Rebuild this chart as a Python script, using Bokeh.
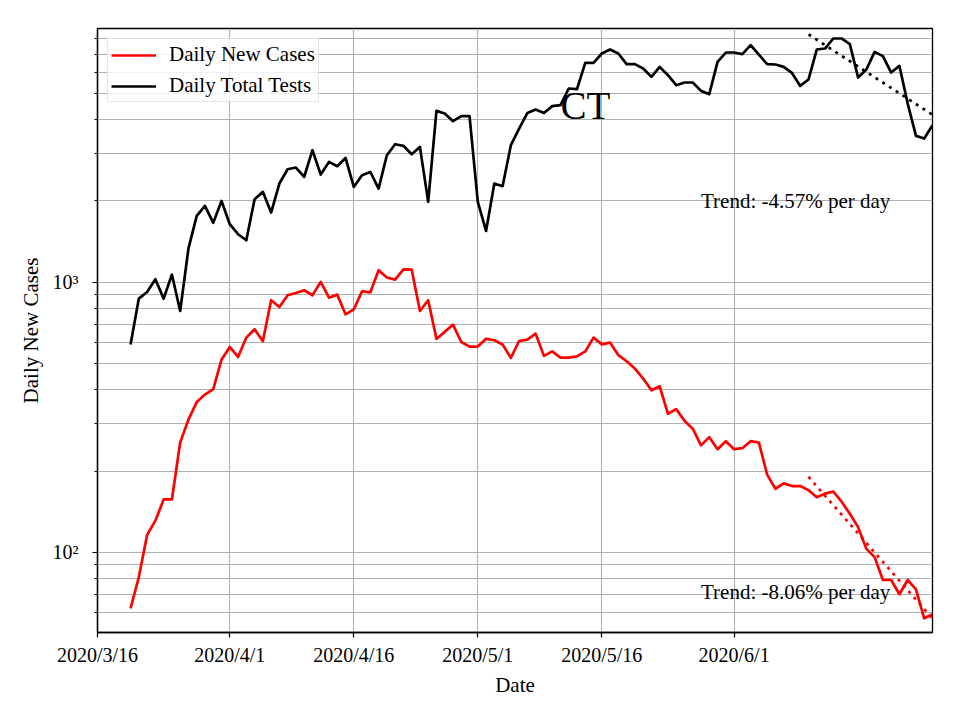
import math
import pandas as pd
from bokeh.plotting import figure
from bokeh.models import FixedTicker, CustomJSTickFormatter, Range1d, ColumnDataSource
from bokeh.core.properties import value
from bokeh.embed import file_html
from bokeh.resources import INLINE

FONT = "Liberation Serif"

# ---------------- data ----------------
start_date = "2020-03-20"
end_date = "2020-06-25"

new_cases = [62, 81, 116, 131, 157, 157, 255, 310, 360, 384,
             402, 517, 576, 529, 624, 670, 605, 858, 810, 895,
             913, 934, 895, 1003, 877, 900, 761, 794, 926, 918,
             1108, 1041, 1023, 1117, 1114, 783, 858, 617, 655, 697,
             601, 578, 578, 618, 610, 588, 525, 606, 613, 645,
             534, 555, 526, 526, 532, 555, 624, 589, 598, 537,
             510, 479, 440, 398, 412, 326, 339, 307, 287, 249,
             267, 241, 258, 241, 243, 258, 255, 194, 172, 180,
             176, 176, 170, 160, 165, 168, 154, 139, 124, 103,
             96, 79, 79, 70, 79, 73, 57, 59]

total_tests = [588, 870, 920, 1026, 870, 1068, 783, 1332, 1760, 1918,
               1659, 2000, 1640, 1506, 1431, 2030, 2161, 1812, 2320, 2621,
               2659, 2455, 3083, 2505, 2790, 2690, 2886, 2254, 2490, 2561,
               2223, 2953, 3244, 3200, 2979, 3171, 1984, 4311, 4214, 3948,
               4120, 4120, 1984, 1549, 2320, 2268, 3217, 3708, 4236, 4361,
               4236, 4487, 4526, 5216, 5191, 6493, 6493, 7031, 7272, 7031,
               6420, 6420, 6183, 5761, 6273, 5843, 5365, 5490, 5490, 5112,
               4970, 6546, 7089, 7089, 6989, 7546, 6960, 6420, 6400, 6273,
               5957, 5333, 5632, 7272, 7335, 7990, 7990, 7611, 5728, 6134,
               7128, 6874, 5977, 6324, 4588, 3483, 3405, 3815]

trend_start = "2020-06-10"
trend_end = "2020-06-25"
cases_trend_v0 = 190.5
cases_trend_rate = 0.0806   # per day
tests_trend_v0 = 8276
tests_trend_rate = 0.0457   # per day

x_tick_dates = ["2020-03-16", "2020-04-01", "2020-04-16",
                "2020-05-01", "2020-05-16", "2020-06-01"]
y_major_ticks = [100, 1000]
y_minor_ticks = [60, 70, 80, 90, 200, 300, 400, 500, 600, 700, 800, 900,
                 2000, 3000, 4000, 5000, 6000, 7000, 8000]

x_limits = ["2020-03-16", "2020-06-25"]
y_limits = [50.5, 8700]

# ---------------- build ----------------
dates = pd.date_range(start_date, end_date, freq="D")
src = ColumnDataSource(dict(date=dates, cases=new_cases, tests=total_tests))

t0 = pd.Timestamp(trend_start)
t1 = pd.Timestamp(trend_end)
ndays = (t1 - t0).days
trend_x = [t0, t1]
cases_trend = [cases_trend_v0, cases_trend_v0 * math.exp(-cases_trend_rate * ndays)]
tests_trend = [tests_trend_v0, tests_trend_v0 * math.exp(-tests_trend_rate * ndays)]

p = figure(x_axis_type="datetime", y_axis_type="log",
           x_range=Range1d(pd.Timestamp(x_limits[0]), pd.Timestamp(x_limits[1])),
           y_range=Range1d(*y_limits),
           frame_width=835, frame_height=604,
           min_border_left=97, min_border_top=28, min_border_right=12,
           min_border_bottom=74,
           output_backend="svg", toolbar_location=None)

p.background_fill_color = "white"
p.outline_line_color = "black"
p.outline_line_width = 1.3

p.line("date", "cases", source=src, line_color="red", line_width=2.7,
       line_join="round", legend_label="Daily New Cases")
p.line("date", "tests", source=src, line_color="black", line_width=2.7,
       line_join="round", legend_label="Daily Total Tests")

p.line(trend_x, cases_trend, line_color="red", line_width=2.7, line_dash="3 5")
p.line(trend_x, tests_trend, line_color="black", line_width=2.7, line_dash="3 5")

# texts
p.text(x=[pd.Timestamp("2020-05-11")], y=[4508], text=["CT"],
       text_font=value(FONT), text_font_size="39px", text_color="black",
       text_align="left", text_baseline="alphabetic")
p.text(x=[pd.Timestamp("2020-05-28")], y=[2007],
       text=["Trend: -4.57% per day"],
       text_font=value(FONT), text_font_size="21px", text_color="black",
       text_align="left", text_baseline="alphabetic")
p.text(x=[pd.Timestamp("2020-05-28")], y=[71.1],
       text=["Trend: -8.06% per day"],
       text_font=value(FONT), text_font_size="21px", text_color="black",
       text_align="left", text_baseline="alphabetic")

# axes
p.xaxis.ticker = FixedTicker(ticks=[pd.Timestamp(d).value / 1e6 for d in x_tick_dates])
p.xaxis.formatter = CustomJSTickFormatter(code="""
const d = new Date(tick);
return d.getUTCFullYear() + '/' + (d.getUTCMonth() + 1) + '/' + d.getUTCDate();
""")
p.yaxis.ticker = FixedTicker(ticks=y_major_ticks, minor_ticks=y_minor_ticks)
p.yaxis.formatter = CustomJSTickFormatter(code="""
const sup = {'0':'\u2070','1':'\u00b9','2':'\u00b2','3':'\u00b3','4':'\u2074','5':'\u2075'};
const e = Math.round(Math.log10(tick));
return '10' + sup[String(e)];
""")

for ax in (p.xaxis[0], p.yaxis[0]):
    ax.axis_line_color = "black"
    ax.axis_line_width = 1.3
    ax.major_tick_line_color = "black"
    ax.major_tick_line_width = 1.2
    ax.minor_tick_line_color = "black"
    ax.minor_tick_line_width = 1
    ax.major_tick_in = 0
    ax.major_tick_out = 5
    ax.minor_tick_in = 0
    ax.minor_tick_out = 3
    ax.major_label_text_font = FONT
    ax.major_label_text_font_size = "20px"
    ax.major_label_text_color = "black"
    ax.axis_label_text_font = FONT
    ax.axis_label_text_font_size = "21px"
    ax.axis_label_text_font_style = "normal"
    ax.axis_label_text_color = "black"

p.xaxis.axis_label = "Date"
p.yaxis.axis_label = "Daily New Cases"
p.xaxis.major_label_standoff = 6
p.yaxis.major_label_standoff = 14
p.yaxis.axis_label_standoff = 7
p.xaxis.axis_label_standoff = 4

p.xgrid.grid_line_color = "#b0b0b0"
p.xgrid.grid_line_width = 1.1
p.ygrid.grid_line_color = "#b0b0b0"
p.ygrid.grid_line_width = 1.1
p.ygrid.minor_grid_line_color = "#b0b0b0"
p.ygrid.minor_grid_line_width = 1.1

lg = p.legend[0]
lg.location = "top_left"
lg.margin = 10
lg.padding = 3
lg.spacing = 6
lg.glyph_width = 45
lg.glyph_height = 20
lg.label_height = 20
lg.label_standoff = 13
lg.label_text_font = FONT
lg.label_text_font_size = "21px"
lg.label_text_color = "black"
lg.border_line_color = "#cccccc"
lg.border_line_width = 1
lg.background_fill_color = "white"
lg.background_fill_alpha = 0.8

with open("out.html", "w") as f:
    f.write(file_html(p, INLINE))
